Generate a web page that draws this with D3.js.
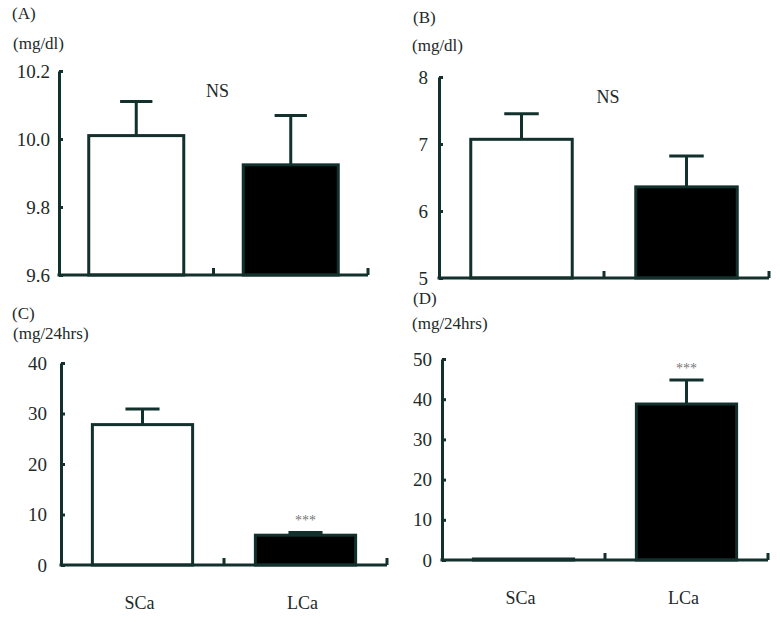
<!DOCTYPE html>
<html>
<head>
<meta charset="utf-8">
<script src="https://cdn.jsdelivr.net/npm/d3@7"></script>
<style>
  body { margin: 0; background: #fff; }
</style>
</head>
<body>
<div id="plot"></div>
<script>
// groups on the x axis
var categories = ["SCa", "LCa"];

// panel texts
var panelLetters = ["(A)", "(B)", "(C)", "(D)"],
    panelUnits = ["(mg/dl)", "(mg/dl)", "(mg/24hrs)", "(mg/24hrs)"],
    panelNotes = ["NS", "NS", "***", "***"];

// means and error bars
var meanA = [10.01, 9.924], errA = [0.10, 0.145],
    meanB = [7.07, 6.36],   errB = [0.38, 0.46],
    meanC = [27.8, 5.9],    errC = [3.1, 0.55],
    meanD = [0.25, 38.8],   errD = [0, 6.0];

// y axis ranges and tick values
var domainA = [9.6, 10.2], ticksA = [9.6, 9.8, 10.0, 10.2],
    domainB = [5, 8],      ticksB = [5, 6, 7, 8],
    domainC = [0, 40],     ticksC = [0, 10, 20, 30, 40],
    domainD = [0, 50],     ticksD = [0, 10, 20, 30, 40, 50];

var ink = "#12302c",
    textInk = "#222a29",
    serif = "'Liberation Serif', 'Times New Roman', Times, serif";
var width = 780, height = 624;

var svg = d3.select("#plot").append("svg")
    .attr("width", width)
    .attr("height", height)
    .attr("font-family", serif);

// pixel frame of each panel
var panels = [
  {mean: meanA, err: errA, domain: domainA, ticks: ticksA, fmt: d3.format(".1f"),
   x0: 59, x1: 368, top: 71, bottom: 275, pad: 9, lx: 12, ly: 13, ux: 13, uy: 43,
   note: "mid", showCats: false},
  {mean: meanB, err: errB, domain: domainB, ticks: ticksB, fmt: d3.format("d"),
   x0: 439, x1: 769, top: 77, bottom: 278, pad: 11, lx: 413, ly: 17, ux: 412, uy: 45,
   note: "mid", showCats: false},
  {mean: meanC, err: errC, domain: domainC, ticks: ticksC, fmt: d3.format("d"),
   x0: 61, x1: 387, top: 363, bottom: 565, pad: 14, lx: 12, ly: 313, ux: 13, uy: 333,
   note: "bar", showCats: true},
  {mean: meanD, err: errD, domain: domainD, ticks: ticksD, fmt: d3.format("d"),
   x0: 442, x1: 768, top: 359, bottom: 560, pad: 10, lx: 413, ly: 298, ux: 412, uy: 323,
   note: "bar", showCats: true}
];

function label(g, x, y, size, txt) {
  return g.append("text")
      .attr("x", x).attr("y", y)
      .attr("dy", "0.35em")
      .attr("font-family", serif)
      .attr("font-size", size)
      .attr("fill", textInk)
      .text(txt);
}

panels.forEach(function(p, i) {
  var g = svg.append("g");

  var x = d3.scaleBand()
      .domain(categories)
      .range([p.x0, p.x1]);
  var y = d3.scaleLinear()
      .domain(p.domain)
      .range([p.bottom, p.top]);

  var barW = x.bandwidth() * 0.615;
  var cx = function(c) { return x(c) + x.bandwidth() / 2; };

  // panel letter and unit
  label(g, p.lx, p.ly, 17, panelLetters[i]);
  label(g, p.ux, p.uy, 17, panelUnits[i]);

  // error bars first so bar outline sits over the stem
  categories.forEach(function(c, j) {
    if (p.err[j] <= 0) return;
    var yt = y(p.mean[j] + p.err[j]);
    g.append("line")
        .attr("x1", cx(c)).attr("x2", cx(c))
        .attr("y1", y(p.mean[j])).attr("y2", yt)
        .attr("stroke", ink).attr("stroke-width", 3);
    g.append("line")
        .attr("x1", cx(c) - barW * 0.17).attr("x2", cx(c) + barW * 0.17)
        .attr("y1", yt).attr("y2", yt)
        .attr("stroke", ink).attr("stroke-width", 3);
  });

  // bars
  g.selectAll("rect.bar")
    .data(categories)
    .enter().append("rect")
      .attr("class", "bar")
      .attr("x", function(c) { return cx(c) - barW / 2; })
      .attr("y", function(c, j) { return y(p.mean[j]); })
      .attr("width", barW)
      .attr("height", function(c, j) { return p.bottom - y(p.mean[j]); })
      .attr("fill", function(c, j) { return j === 0 ? "#fff" : "#000"; })
      .attr("stroke", ink)
      .attr("stroke-width", 3);

  // y axis, ticks pointing inward
  var yAxis = g.append("g")
      .attr("transform", "translate(" + p.x0 + ",0)")
      .call(d3.axisLeft(y)
        .tickValues(p.ticks)
        .tickFormat(p.fmt)
        .tickSizeInner(-4)
        .tickSizeOuter(0)
        .tickPadding(p.pad));
  yAxis.attr("font-family", serif).attr("font-size", 19);
  yAxis.select(".domain").attr("stroke", ink).attr("stroke-width", 3);
  yAxis.selectAll(".tick line").attr("stroke", ink).attr("stroke-width", 3);
  yAxis.selectAll(".tick text").attr("fill", textInk);

  // x baseline with upward ticks at band ends
  g.append("line")
      .attr("x1", p.x0 - 1.5).attr("x2", p.x1)
      .attr("y1", p.bottom).attr("y2", p.bottom)
      .attr("stroke", ink).attr("stroke-width", 3);
  categories.forEach(function(c) {
    var xe = x(c) + x.bandwidth();
    g.append("line")
        .attr("x1", xe).attr("x2", xe)
        .attr("y1", p.bottom).attr("y2", p.bottom - 7)
        .attr("stroke", ink).attr("stroke-width", 3);
  });

  // category labels
  if (p.showCats) {
    categories.forEach(function(c) {
      label(g, cx(c) - 3, p.bottom + 38, 18, c).attr("text-anchor", "middle");
    });
  }

  // significance notes
  if (p.note === "mid") {
    label(g, x(categories[1]) + 4, p.top + 20, 18, panelNotes[i])
        .attr("text-anchor", "middle");
  } else {
    var top = y(p.mean[1] + p.err[1]);
    label(g, cx(categories[1]), top - 12, 14, panelNotes[i])
        .attr("text-anchor", "middle")
        .attr("fill", "#777");
  }
});
</script>
</body>
</html>
